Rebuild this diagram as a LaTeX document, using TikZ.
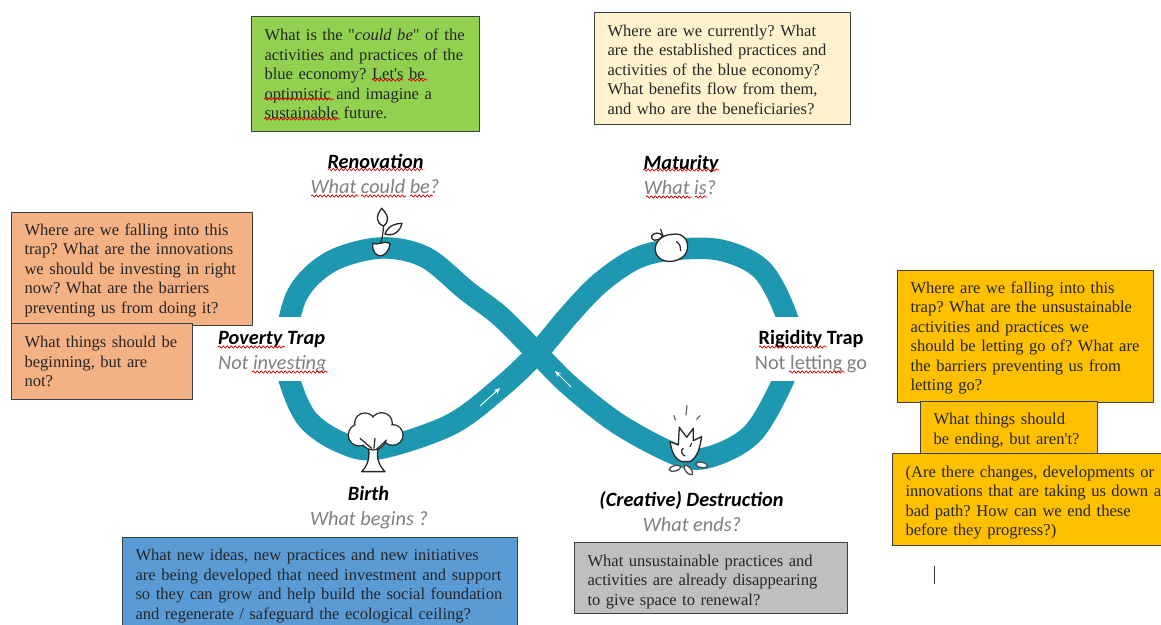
\documentclass[tikz,border=0pt]{standalone}
\usepackage{fontspec}
\newfontfamily\boxfont{Liberation Serif}
\newfontfamily\labelfont{Carlito}
\usetikzlibrary{decorations.pathmorphing,arrows.meta}
\definecolor{bandc}{HTML}{1E97B0}
\definecolor{greenbox}{HTML}{92D050}
\definecolor{creambox}{HTML}{FFF2CC}
\definecolor{orangebox}{HTML}{F4B183}
\definecolor{yellowbox}{HTML}{FFC000}
\definecolor{bluebox}{HTML}{5B9BD5}
\definecolor{graybox}{HTML}{BFBFBF}
\definecolor{inkc}{HTML}{262626}
\definecolor{grayt}{HTML}{808080}
\tikzset{
  tbox/.style={draw=black!75,line width=1.1pt,anchor=north west,align=left,inner xsep=13pt,inner ysep=0pt,text=inkc,font=\boxfont\fontsize{16.55}{19.5}\selectfont\frenchspacing},
  head/.style={font=\labelfont\fontsize{20.3}{22}\selectfont\bfseries\itshape,text=black,inner sep=0pt},
  headup/.style={font=\labelfont\fontsize{20.3}{22}\selectfont\bfseries,text=black,inner sep=0pt},
  sub/.style={font=\labelfont\fontsize{20.3}{22}\selectfont\itshape,text=grayt,inner sep=0pt},
  subup/.style={font=\labelfont\fontsize{20.3}{22}\selectfont,text=grayt,inner sep=0pt},
  squig/.style={draw=red!85!black,line width=0.7pt,decorate,decoration={snake,amplitude=1.1pt,segment length=4pt}},
  icon/.style={draw=black!85,line width=1.3pt,fill=white,line join=round},
  iconl/.style={draw=black!85,line width=1.2pt,line cap=round},
  flow/.style={draw=white,line width=0.9pt,-{Stealth[length=6pt,width=5pt]}}
}
\newcommand{\squigline}[3]{\draw[squig] (#1,#3) -- (#2,#3);}
\begin{document}
\begin{tikzpicture}[x=1pt,y=-1pt]
\useasboundingbox (0,0) rectangle (1161,624);
\clip (0,0) rectangle (1161,624);
\fill[white] (0,0) rectangle (1161,624);

% band
\draw[bandc,line width=21.5pt,line join=round] plot[smooth cycle,tension=0.55] coordinates {
 (570,314) (600,283) (635,259) (670,250) (720,250) (762,270) (787,317) (791,350) (783,381) (753,433) (713,456) (680,456)
 (620,425) (570,386) (537,353) (500,316) (467,291) (425,257) (380,248) (330,262) (297,295) (285,350) (291,385) (308,420) (340,442) (377,449) (450,425) (500,388) (537,353)};
\fill[white] (262,317) rectangle (332,381);
\fill[white] (755,317) rectangle (815,381);

\coordinate (fa) at (480,406); \coordinate (fb) at (500,388);
\coordinate (fc) at (571,387); \coordinate (fd) at (555,371);
\draw[flow] (fa) -- (fb);
\draw[flow] (fc) -- (fd);

% sprout (coordinates from a 3x crop)
\begin{scope}[shift={(200,140)},x=0.3333pt,y=-0.3333pt]
 \draw[icon] (518,310) .. controls (515,360) and (565,360) .. (570,310) .. controls (555,300) and (530,318) .. (518,310) -- cycle;
 \draw[iconl] (542,310) .. controls (548,290) and (552,265) .. (550,250);
 \draw[icon] (545,205) .. controls (525,230) and (530,250) .. (550,258) .. controls (570,245) and (565,225) .. (545,205) -- cycle;
 \draw[icon] (555,282) .. controls (565,255) and (590,250) .. (606,250) .. controls (600,275) and (580,290) .. (555,282) -- cycle;
\end{scope}

% tree
\begin{scope}[shift={(200,140)},x=0.3333pt,y=-0.3333pt]
 \draw[icon] (505,920) .. controls (510,950) and (505,975) .. (485,995) -- (555,995) .. controls (535,975) and (528,950) .. (535,920) -- cycle;
 \foreach \cx/\cy/\rr in {478/885/31,495/850/29,545/850/30,578/885/29,520/890/38}{
   \draw[black!85,line width=2.6pt] (\cx,\cy) circle[radius=\rr];
 }
 \foreach \cx/\cy/\rr in {478/885/31,495/850/29,545/850/30,578/885/29,520/890/38}{
   \fill[white] (\cx,\cy) circle[radius=\rr];
 }
 \draw[iconl] (480,895) -- (515,925);
 \draw[iconl] (560,900) -- (530,928);
 \draw[iconl] (525,895) -- (522,925);
\end{scope}

% apple
\begin{scope}[shift={(520,140)},x=0.3333pt,y=-0.3333pt]
 \draw[icon] (455,283) .. controls (495,275) and (510,310) .. (500,335) .. controls (490,365) and (430,378) .. (410,345) .. controls (395,315) and (420,285) .. (455,283) -- cycle;
 \draw[iconl] (470,305) .. controls (480,312) and (483,322) .. (482,332);
 \draw[iconl] (430,290) -- (422,268);
 \draw[icon] (428,288) .. controls (410,310) and (392,300) .. (395,288) .. controls (400,278) and (420,275) .. (428,288) -- cycle;
\end{scope}

% fire
\begin{scope}[shift={(520,140)},x=0.3333pt,y=-0.3333pt]
 \foreach \cx/\cy/\an in {465/985/15,505/990/-50,545/975/-10}{
   \draw[black!70,line width=1.3pt,fill=white] ([shift={(\cx,\cy)}]0,0) ellipse[x radius=18,y radius=8,rotate=\an];
 }
 \draw[icon] (485,965) .. controls (460,955) and (455,930) .. (450,905) -- (475,915) -- (478,862) -- (500,892) -- (520,865) -- (520,902) -- (545,890) .. controls (540,920) and (535,950) .. (510,965) -- cycle;
 \draw[iconl] (490,925) .. controls (480,930) and (485,945) .. (495,948);
 \draw[iconl] (510,920) -- (515,910);
 \draw[iconl,black!60] (501,797) -- (498,825);
 \draw[iconl,black!60] (462,827) -- (466,840);
 \draw[iconl,black!60] (540,827) -- (530,838);
\end{scope}

% text boxes
\node[tbox,fill=greenbox,minimum width=228pt,text width=202pt,minimum height=115pt] (green) at (251,16) {What is the "\textit{could be}" of the\\activities and practices of the\\blue economy? Let's be\\optimistic and imagine a\\sustainable future.};
\node[tbox,fill=creambox,minimum width=256pt,text width=230pt,minimum height=112pt] (cream) at (594,12) {\rule{0pt}{14pt}Where are we currently? What\\are the established practices and\\activities of the blue economy?\\What benefits flow from them,\\and who are the beneficiaries?};
\node[tbox,fill=orangebox,minimum width=241pt,text width=215pt,minimum height=113pt] (orangeA) at (11,212) {\rule{0pt}{14pt}Where are we falling into this\\trap? What are the innovations\\we should be investing in right\\now? What are the barriers\\preventing us from doing it?};
\node[tbox,fill=orangebox,minimum width=181pt,text width=155pt,minimum height=76pt] (orangeB) at (11,323) {What things should be\\beginning, but are\\not?};
\node[tbox,fill=yellowbox,minimum width=256pt,text width=230pt,minimum height=132pt] (yellowA) at (897,270) {\rule{0pt}{14pt}Where are we falling into this\\trap? What are the unsustainable\\activities and practices we\\\mbox{should be letting go of? What are}\\the barriers preventing us from\\letting go?};
\node[tbox,fill=yellowbox,minimum width=177pt,text width=151pt,minimum height=52pt] (yellowB) at (920,401) {\rule{0pt}{17pt}What things should\\be ending, but aren't?};
\node[tbox,fill=yellowbox,minimum width=285pt,text width=259pt,minimum height=92pt] (yellowC) at (892,453) {\rule{0pt}{17pt}(Are there changes, developments or\\innovations that are taking us down a\\bad path? How can we end these\\before they progress?)};
\node[tbox,fill=bluebox,minimum width=395pt,text width=369pt,minimum height=97pt] (bluebx) at (122,537) {What new ideas, new practices and new initiatives\\are being developed that need investment and support\\so they can grow and help build the social foundation\\and regenerate / safeguard the ecological ceiling?};
\node[tbox,fill=graybox,minimum width=273pt,text width=247pt,minimum height=71pt] (graybx) at (574,542) {\rule{0pt}{19pt}What unsustainable practices and\\activities are already disappearing\\to give space to renewal?};

% labels
\node[head] (renov) at (375.5,161) {Renovation};
\node[sub] (renovq) at (375,187) {What could be?};
\node[head] (matur) at (681,163.5) {Maturity};
\node[sub] (maturq) at (680,188) {What is?};
\node[head,anchor=west] (povt) at (218,339.5) {Poverty Trap};
\node[sub,anchor=west] (povq) at (218,364.5) {Not investing};
\node[headup] (rigt) at (811,339.5) {Rigidity Trap};
\node[subup] (rigq) at (811,364.5) {Not letting go};
\node[head] (birth) at (368.5,493) {Birth};
\node[sub] (birthq) at (369,520.5) {What begins ?};
\node[head] (destr) at (691.5,500) {(Creative) Destruction};
\node[sub] (destrq) at (692,524.5) {What ends?};

% spell-check marks
\squigline{328}{423}{169.5}
\squigline{311}{359}{196}\squigline{361}{406}{196}\squigline{410}{433}{196}
\squigline{218}{285}{347}
\squigline{252}{328}{372}
\squigline{643}{719}{170}
\squigline{646}{692}{197}\squigline{695}{707}{197}
\squigline{759}{827}{347}
\squigline{789}{845}{372}
\squigline{372}{403}{80}\squigline{408}{427}{80}
\squigline{264}{334}{99}
\squigline{264}{340}{119}

% text cursor
\coordinate (cura) at (934,566); \coordinate (curb) at (934,584);
\draw[black!80,line width=1pt] (cura) -- (curb);
\end{tikzpicture}
\end{document}
